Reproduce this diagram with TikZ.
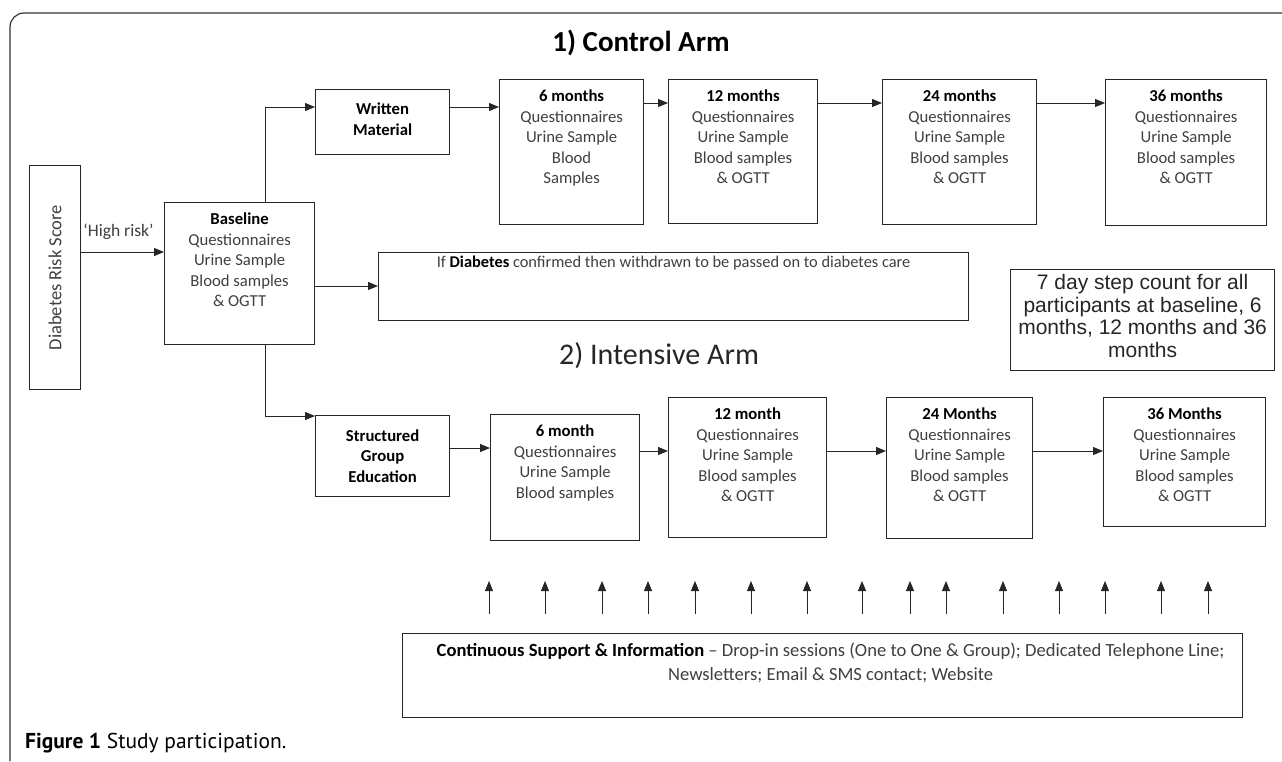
\documentclass[tikz,border=0pt]{standalone}
\usepackage{fontspec}
\setmainfont{Carlito}
\newfontfamily\arialfont{Liberation Sans}
\newfontfamily\capfont{PT Sans}
\usetikzlibrary{calc,arrows.meta}
\tikzset{
  stagebox/.style={draw=black!85, line width=1.2pt, anchor=north west, inner sep=0pt},
  boxtext/.style={align=center, inner sep=0pt, anchor=north, font=\fontsize{16.7}{20.5}\selectfont, text=black!75},
  arr/.style={-{Triangle[length=10pt,width=8pt]}, line width=1pt, black!85},
}
\newcommand{\hd}[1]{\textbf{\color{black}#1}}

\begin{document}
\begin{tikzpicture}[x=1pt,y=-1pt]
			\useasboundingbox (0,0) rectangle (1282,761);
			\fill[white] (0,0) rectangle (1282,761);
			\draw[line width=1.2pt, black!80, rounded corners=14pt] (10,761) -- (10,13) -- (1282,13);
			% titles
			\node[font=\fontsize{29}{34}\selectfont\bfseries] (ctitle) at (641,43) {1) Control Arm};
			\node[font=\fontsize{30}{36}\selectfont, text=black!85] (ititle) at (659,356) {2) Intensive Arm};
			% boxes
			\node[stagebox, minimum width=51, minimum height=224] (drs) at (29,165) {};
			\node[boxtext, anchor=center, rotate=90, font=\fontsize{18.5}{22}\selectfont] (drst) at (drs.center) {Diabetes Risk Score};
			\node[stagebox, minimum width=150, minimum height=142] (base) at (164,202) {};
			\node[boxtext] (baset) at ([yshift=-11pt]base.north) {\hd{Baseline}\\Questionnaires\\Urine Sample\\Blood samples\\\& OGTT};
			\node[stagebox, minimum width=134, minimum height=65] (wm) at (315,89) {};
			\node[boxtext, anchor=center] (wmt) at ([yshift=3pt]wm.center) {\hd{Written}\\\hd{Material}};
			\node[stagebox, minimum width=134, minimum height=81] (sge) at (315,415) {};
			\node[boxtext, anchor=center] (sget) at (sge.center) {\hd{Structured}\\\hd{Group}\\\hd{Education}};
			\node[stagebox, minimum width=144, minimum height=145] (c6) at (499,79) {};
			\node[boxtext] (c6t) at ([yshift=-11pt]c6.north) {\hd{6 months}\\Questionnaires\\Urine Sample\\Blood\\Samples};
			\node[stagebox, minimum width=149, minimum height=144] (c12) at (668,79) {};
			\node[boxtext] (c12t) at ([yshift=-11pt]c12.north) {\hd{12 months}\\Questionnaires\\Urine Sample\\Blood samples\\\& OGTT};
			\node[stagebox, minimum width=154, minimum height=145] (c24) at (882,79) {};
			\node[boxtext] (c24t) at ([yshift=-11pt]c24.north) {\hd{24 months}\\Questionnaires\\Urine Sample\\Blood samples\\\& OGTT};
			\node[stagebox, minimum width=161, minimum height=146] (c36) at (1105,79) {};
			\node[boxtext] (c36t) at ([yshift=-11pt]c36.north) {\hd{36 months}\\Questionnaires\\Urine Sample\\Blood samples\\\& OGTT};
			\node[stagebox, minimum width=590, minimum height=68] (diab) at (378,252) {};
			\node[boxtext, font=\fontsize{16.4}{19}\selectfont] (diabt) at ([yshift=-4pt]diab.north) {If \hd{Diabetes} confirmed then withdrawn to be passed on to diabetes care};
			\node[stagebox, minimum width=264, minimum height=101] (step) at (1010,269) {};
			\node[boxtext, anchor=center, font=\arialfont\fontsize{21}{22.5}\selectfont, text=black!85] (stept) at ([yshift=4pt]step.center) {7 day step count for all\\participants at baseline, 6\\months, 12 months and 36\\months};
			\node[stagebox, minimum width=149, minimum height=126] (i6) at (490,414) {};
			\node[boxtext] (i6t) at ([yshift=-11pt]i6.north) {\hd{6 month}\\Questionnaires\\Urine Sample\\Blood samples};
			\node[stagebox, minimum width=158, minimum height=140] (i12) at (668,397) {};
			\node[boxtext] (i12t) at ([yshift=-11pt]i12.north) {\hd{12 month}\\Questionnaires\\Urine Sample\\Blood samples\\\& OGTT};
			\node[stagebox, minimum width=146, minimum height=141] (i24) at (886,397) {};
			\node[boxtext] (i24t) at ([yshift=-11pt]i24.north) {\hd{24 Months}\\Questionnaires\\Urine Sample\\Blood samples\\\& OGTT};
			\node[stagebox, minimum width=162, minimum height=129] (i36) at (1103,397) {};
			\node[boxtext] (i36t) at ([yshift=-11pt]i36.north) {\hd{36 Months}\\Questionnaires\\Urine Sample\\Blood samples\\\& OGTT};
			\node[stagebox, minimum width=840, minimum height=84] (sup) at (402,633) {};
			\node[boxtext, font=\fontsize{18.6}{24}\selectfont] (supt) at ([yshift=-10pt,xshift=8pt]sup.north) {\hd{Continuous Support \& Information} -- Drop-in sessions (One to One \& Group); Dedicated Telephone Line;\\Newsletters; Email \& SMS contact; Website};
			% arrows
			\draw[arr] (drs.east |- 0,252) -- (base.west |- 0,252) node[boxtext, anchor=center, pos=0.45, yshift=20pt, font=\fontsize{17.5}{20}\selectfont] (hr) {‘High risk’};
			\draw[arr] (base.north -| 265,0) |- (wm.west |- 0,107);
			\draw[arr] (base.south -| 265,0) |- (sge.west |- 0,416);
			\draw[arr] (base.east |- 0,286) -- (diab.west |- 0,286);
			\draw[arr] (wm.east |- 0,107) -- (c6.west |- 0,107);
			\draw[arr] (c6.east |- 0,103) -- (c12.west |- 0,103);
			\draw[arr] (c12.east |- 0,103) -- (c24.west |- 0,103);
			\draw[arr] (c24.east |- 0,103) -- (c36.west |- 0,103);
			\draw[arr] (sge.east |- 0,448) -- (i6.west |- 0,448);
			\draw[arr] (i6.east |- 0,451) -- (i12.west |- 0,451);
			\draw[arr] (i12.east |- 0,451) -- (i24.west |- 0,451);
			\draw[arr] (i24.east |- 0,451) -- (i36.west |- 0,451);
			\foreach \x in {489,545,602,648,695,751,807,862,910,946,1003,1059,1105,1161,1208}{
				\draw[arr] ($(sup.north -| \x,0)+(0,-19)$) -- ++(0,-33);
			}
			% caption
			\node[anchor=west, inner sep=0pt, font=\capfont\fontsize{21.5}{24}\selectfont] (cap) at (25,743) {\textbf{Figure 1} Study participation.};
\end{tikzpicture}
\end{document}
